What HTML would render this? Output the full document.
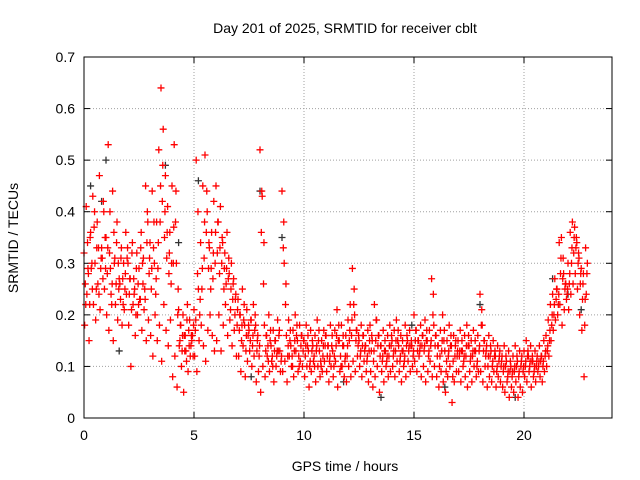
<!DOCTYPE html>
<html><head><meta charset="utf-8"><style>
body{margin:0;background:#fff}
svg{display:block;font-family:"Liberation Sans",sans-serif}
</style></head><body>
<svg id="chart" width="640" height="480">
<rect width="640" height="480" fill="#fff"/>
<text x="345" y="33" font-size="14" text-anchor="middle">Day 201 of 2025, SRMTID for receiver cblt</text>
<text x="345" y="471" font-size="14" text-anchor="middle">GPS time / hours</text>
<text transform="translate(18,238) rotate(-90)" font-size="14" text-anchor="middle">SRMTID / TECUs</text>
<g id="grid"></g>
<g id="ticks"></g>
<g id="marks"></g>
<rect x="84" y="57" width="528" height="361" fill="none" stroke="#000" stroke-width="1"/>
</svg>
<script>
const xTicks=[0,5,10,15,20];
const yTicks=[0,0.1,0.2,0.3,0.4,0.5,0.6,0.7];
const yTickLabels=["0","0.1","0.2","0.3","0.4","0.5","0.6","0.7"];
const startHour=0, stepHour=0.1;
const seriesA=[0.32,0.41,0.28,0.36,0.43,0.30,0.38,0.47,0.33,0.40,
0.35,0.53,0.29,0.44,0.31,0.38,0.27,0.33,0.30,0.36,
0.30,0.27,0.34,0.25,0.32,0.29,0.36,0.31,0.45,0.38,
0.34,0.44,0.30,0.38,0.52,0.64,0.56,0.47,0.41,0.36,
0.45,0.53,0.30,0.21,0.18,0.20,0.16,0.22,0.19,0.15,
0.21,0.50,0.25,0.34,0.45,0.51,0.40,0.33,0.36,0.42,
0.45,0.38,0.41,0.34,0.32,0.36,0.28,0.30,0.27,0.24,
0.23,0.20,0.25,0.18,0.21,0.17,0.19,0.22,0.18,0.16,
0.52,0.43,0.18,0.16,0.20,0.14,0.17,0.15,0.19,0.13,
0.44,0.30,0.16,0.19,0.14,0.17,0.20,0.15,0.18,0.16,
0.15,0.18,0.13,0.17,0.14,0.16,0.19,0.13,0.15,0.17,
0.16,0.14,0.18,0.13,0.17,0.21,0.15,0.18,0.14,0.16,
0.19,0.22,0.29,0.20,0.17,0.15,0.18,0.16,0.14,0.17,
0.18,0.15,0.22,0.19,0.16,0.14,0.17,0.13,0.16,0.18,
0.15,0.17,0.19,0.14,0.16,0.13,0.18,0.15,0.17,0.14,
0.20,0.17,0.15,0.18,0.16,0.19,0.15,0.17,0.27,0.18,
0.16,0.14,0.17,0.20,0.13,0.15,0.18,0.14,0.16,0.15,
0.15,0.17,0.13,0.16,0.18,0.14,0.15,0.17,0.13,0.16,
0.24,0.18,0.15,0.14,0.16,0.13,0.15,0.12,0.14,0.13,
0.12,0.14,0.11,0.13,0.10,0.12,0.14,0.11,0.13,0.12,
0.13,0.15,0.12,0.14,0.11,0.13,0.12,0.14,0.12,0.15,
0.16,0.19,0.22,0.24,0.27,0.25,0.34,0.35,0.28,0.26,
0.30,0.36,0.38,0.37,0.34,0.31,0.29,0.28,0.33];
const seriesB=[0.18,0.24,0.15,0.29,0.22,0.19,0.26,0.21,0.31,0.25,
0.20,0.17,0.24,0.15,0.22,0.19,0.26,0.18,0.21,0.24,
0.18,0.10,0.22,0.16,0.20,0.23,0.17,0.21,0.15,0.19,
0.16,0.12,0.20,0.15,0.18,0.11,0.22,0.17,0.14,0.19,
0.08,0.12,0.06,0.14,0.10,0.05,0.13,0.09,0.12,0.16,
0.12,0.09,0.15,0.18,0.14,0.11,0.17,0.20,0.16,0.13,
0.15,0.20,0.13,0.18,0.22,0.16,0.19,0.14,0.17,0.12,
0.12,0.09,0.14,0.08,0.11,0.13,0.10,0.12,0.07,0.09,
0.05,0.10,0.08,0.12,0.09,0.11,0.07,0.10,0.13,0.09,
0.09,0.11,0.07,0.12,0.10,0.08,0.13,0.09,0.11,0.10,
0.08,0.10,0.06,0.09,0.11,0.07,0.10,0.08,0.09,0.11,
0.09,0.07,0.10,0.08,0.11,0.06,0.09,0.10,0.08,0.07,
0.10,0.08,0.11,0.09,0.12,0.10,0.08,0.11,0.09,0.07,
0.09,0.06,0.08,0.10,0.05,0.09,0.07,0.10,0.08,0.09,
0.10,0.08,0.11,0.09,0.07,0.10,0.08,0.11,0.09,0.10,
0.11,0.09,0.12,0.08,0.10,0.07,0.09,0.11,0.08,0.10,
0.08,0.06,0.09,0.07,0.05,0.08,0.10,0.03,0.07,0.09,
0.09,0.07,0.10,0.08,0.06,0.09,0.07,0.10,0.08,0.09,
0.09,0.07,0.10,0.06,0.08,0.07,0.09,0.06,0.08,0.07,
0.06,0.05,0.07,0.04,0.06,0.05,0.07,0.04,0.06,0.05,
0.08,0.07,0.09,0.06,0.08,0.07,0.09,0.08,0.07,0.09,
0.10,0.12,0.15,0.17,0.19,0.20,0.22,0.18,0.21,0.23,
0.21,0.24,0.26,0.28,0.25,0.20,0.17,0.08,0.24];
const seriesC=[0.26,0.34,0.22,0.30,0.37,0.25,0.33,0.29,0.27,0.35,
0.28,0.32,0.22,0.36,0.26,0.30,0.23,0.27,0.25,0.31,
0.24,0.21,0.27,0.20,0.26,0.23,0.30,0.25,0.34,0.28,
0.25,0.33,0.24,0.29,0.38,0.42,0.35,0.31,0.28,0.26,
0.30,0.38,0.20,0.15,0.13,0.16,0.11,0.17,0.14,0.12,
0.17,0.28,0.20,0.25,0.31,0.36,0.29,0.25,0.27,0.30,
0.32,0.28,0.30,0.25,0.26,0.27,0.21,0.23,0.20,0.18,
0.17,0.15,0.19,0.13,0.16,0.15,0.14,0.17,0.13,0.12,
0.36,0.26,0.13,0.14,0.15,0.12,0.13,0.12,0.16,0.11,
0.33,0.22,0.12,0.15,0.12,0.13,0.16,0.12,0.14,0.13,
0.12,0.14,0.10,0.13,0.12,0.13,0.15,0.11,0.12,0.14,
0.12,0.11,0.14,0.10,0.14,0.15,0.12,0.14,0.11,0.12,
0.15,0.16,0.22,0.15,0.14,0.12,0.14,0.13,0.11,0.13,
0.13,0.11,0.15,0.14,0.12,0.11,0.13,0.11,0.12,0.14,
0.12,0.13,0.15,0.11,0.13,0.11,0.14,0.13,0.14,0.12,
0.15,0.13,0.13,0.14,0.13,0.15,0.12,0.14,0.20,0.14,
0.12,0.10,0.13,0.15,0.09,0.12,0.14,0.08,0.12,0.12,
0.12,0.13,0.11,0.12,0.14,0.11,0.12,0.13,0.10,0.13,
0.18,0.13,0.12,0.10,0.12,0.10,0.12,0.09,0.11,0.10,
0.09,0.10,0.08,0.09,0.08,0.09,0.10,0.08,0.10,0.09,
0.10,0.12,0.10,0.11,0.09,0.10,0.10,0.11,0.10,0.12,
0.13,0.15,0.18,0.20,0.23,0.22,0.28,0.27,0.25,0.24,
0.26,0.30,0.32,0.33,0.30,0.26,0.23,0.18,0.28];
const seriesD=[0.22,0.29,0.35,0.25,0.40,0.33,0.24,0.31,0.42,0.29,
0.33,0.40,0.26,0.30,0.34,0.25,0.31,0.22,0.28,0.33,
0.27,0.32,0.24,0.29,0.22,0.33,0.26,0.23,0.40,0.31,
0.29,0.38,0.27,0.34,0.45,0.49,0.40,0.36,0.32,0.30,
0.37,0.44,0.25,0.18,0.16,0.13,0.19,0.14,0.16,0.18,
0.19,0.40,0.23,0.29,0.38,0.44,0.34,0.29,0.32,0.36,
0.38,0.33,0.35,0.29,0.29,0.31,0.25,0.26,0.23,0.21,
0.20,0.18,0.22,0.16,0.18,0.19,0.16,0.20,0.15,0.14,
0.44,0.34,0.16,0.11,0.17,0.10,0.15,0.13,0.17,0.12,
0.38,0.26,0.14,0.17,0.10,0.15,0.18,0.10,0.16,0.15,
0.14,0.16,0.11,0.15,0.10,0.14,0.17,0.10,0.14,0.16,
0.14,0.12,0.16,0.12,0.16,0.18,0.10,0.16,0.12,0.14,
0.17,0.19,0.25,0.17,0.16,0.13,0.16,0.14,0.12,0.15,
0.16,0.13,0.19,0.16,0.14,0.12,0.15,0.12,0.14,0.16,
0.13,0.15,0.17,0.12,0.15,0.12,0.16,0.14,0.15,0.13,
0.17,0.15,0.14,0.16,0.14,0.17,0.13,0.15,0.24,0.16,
0.14,0.12,0.15,0.17,0.11,0.13,0.16,0.11,0.14,0.13,
0.13,0.15,0.12,0.14,0.16,0.12,0.13,0.15,0.11,0.14,
0.21,0.15,0.13,0.12,0.14,0.11,0.13,0.10,0.12,0.11,
0.10,0.12,0.09,0.11,0.09,0.10,0.12,0.09,0.11,0.10,
0.11,0.13,0.11,0.12,0.10,0.11,0.11,0.12,0.11,0.13,
0.14,0.17,0.20,0.22,0.25,0.24,0.31,0.31,0.26,0.25,
0.28,0.33,0.35,0.35,0.32,0.28,0.26,0.23,0.30];
const blackTimes=[0.3,0.8,1.0,1.6,3.7,4.3,5.2,7.6,8.0,9.0,11.8,13.5,14.9,16.4,18.0,19.6,21.3,22.0,22.6];
const blackValues=[0.45,0.42,0.50,0.13,0.49,0.34,0.46,0.08,0.44,0.35,0.07,0.04,0.18,0.06,0.22,0.04,0.27,0.24,0.21];

const X0=84,X1=612,Y0=418,Y1=57,XMAX=24,YMAX=0.7;
const xs=h=>X0+(h/XMAX)*(X1-X0);
const ys=v=>Y0-(v/YMAX)*(Y0-Y1);
const NS="http://www.w3.org/2000/svg";
const grid=document.getElementById('grid'),ticks=document.getElementById('ticks'),marks=document.getElementById('marks');
function mk(tag,attrs,parent){const e=document.createElementNS(NS,tag);for(const k in attrs)e.setAttribute(k,attrs[k]);parent.appendChild(e);return e;}
xTicks.forEach(t=>{
  const x=xs(t);
  if(t>0){const g=mk('line',{x1:x,x2:x,y1:Y1,y2:Y0,stroke:'#a0a0a0','stroke-dasharray':'1,2'},grid);
  
  }
  mk('line',{x1:x,x2:x,y1:Y0,y2:Y0-6,stroke:'#000'},ticks);
  mk('line',{x1:x,x2:x,y1:Y1,y2:Y1+6,stroke:'#000'},ticks);
  const l=mk('text',{x:x,y:Y0+22,'font-size':14,'text-anchor':'middle'},ticks);l.textContent=String(t);
  
  
});
yTicks.forEach((t,i)=>{
  const y=ys(t);
  if(t>0&&t<YMAX){const g=mk('line',{x1:X0,x2:X1,y1:y,y2:y,stroke:'#a0a0a0','stroke-dasharray':'1,2'},grid);
  
  }
  mk('line',{x1:X0,x2:X0+6,y1:y,y2:y,stroke:'#000'},ticks);
  mk('line',{x1:X1,x2:X1-6,y1:y,y2:y,stroke:'#000'},ticks);
  const l=mk('text',{x:X0-9,y:y+5,'font-size':14,'text-anchor':'end'},ticks);l.textContent=yTickLabels[i];
  
  
});
function plus(h,v,color,name){
  const x=xs(h),y=ys(v);
  const p=mk('path',{d:`M${x-3.5},${y}H${x+3.5}M${x},${y-3.5}V${y+3.5}`,stroke:color,'stroke-width':1.3,fill:'none'},marks);
  
  
}
blackTimes.forEach((h,i)=>plus(h,blackValues[i],'#333','black-point'));
seriesA.forEach((v,i)=>plus(startHour+i*stepHour,v,'#ff0000','red-point'));
seriesB.forEach((v,i)=>plus(startHour+i*stepHour+0.03,v,'#ff0000','red-point'));
seriesC.forEach((v,i)=>plus(startHour+i*stepHour+0.06,v,'#ff0000','red-point'));
seriesD.forEach((v,i)=>plus(startHour+i*stepHour+0.08,v,'#ff0000','red-point'));
</script>
</body></html>
